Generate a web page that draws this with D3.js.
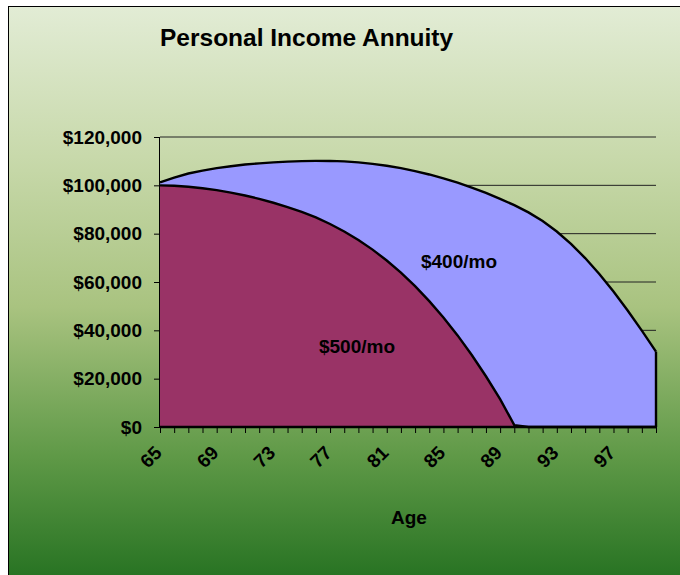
<!DOCTYPE html>
<html>
<head>
<meta charset="utf-8">
<script src="https://cdn.jsdelivr.net/npm/d3@7"></script>
<style>
  body { margin: 0; background: #fff; }
  svg text { font-family: "Liberation Sans", Arial, sans-serif; font-weight: bold; fill: #000; }
</style>
</head>
<body>
<svg id="chart"></svg>
<script>
// ages on the category axis
const ages = d3.range(65, 101);
const tickAges = [65, 69, 73, 77, 81, 85, 89, 93, 97];
const yTicks = [0, 20000, 40000, 60000, 80000, 100000, 120000];

// account balance, $500 a month
const pay500 = [100000, 99800, 99400, 98800, 98000, 97000, 95800, 94400, 92800, 91000,
  89000, 86700, 84000, 80900, 77400, 73400, 68900, 63900, 58300, 52100,
  45300, 37900, 29800, 21000, 11500, 800, 0, 0, 0, 0,
  0, 0, 0, 0, 0, 0];

// account balance, $400 a month
const pay400 = [101200, 103200, 104900, 106100, 107100, 107900, 108600, 109100, 109500, 109800,
  110000, 110100, 110100, 109900, 109500, 108900, 108100, 107100, 105900, 104500,
  102900, 101100, 99100, 96900, 94400, 91800, 88800, 85200, 80900, 75800,
  69900, 63300, 56100, 48200, 39900, 31200];

const W = 680, H = 575;
const margin = { top: 137, right: 24, bottom: 148, left: 160 };
const width = W - margin.left - margin.right;
const height = H - margin.top - margin.bottom;

const svg = d3.select('#chart').attr('width', W).attr('height', H);

// background
const grad = svg.append('defs').append('linearGradient')
  .attr('id', 'bg').attr('x1', 0).attr('y1', 0).attr('x2', 0).attr('y2', 1);
[[0, '#e2ecd5'], [0.25, '#c8d9ab'], [0.5, '#a9c380'], [0.75, '#5f9947'], [1, '#1a6a1a']]
  .forEach(([o, c]) => grad.append('stop').attr('offset', o).attr('stop-color', c));

svg.append('rect')
  .attr('x', 8.5).attr('y', 6.5).attr('width', 700).attr('height', 600)
  .attr('fill', 'url(#bg)').attr('stroke', '#000').attr('stroke-width', 1);

svg.append('text')
  .attr('x', 160).attr('y', 46)
  .style('font-size', '24.5px')
  .text('Personal Income Annuity');

const g = svg.append('g').attr('transform', `translate(${margin.left}, ${margin.top})`);

const x = d3.scalePoint().domain(ages).range([0, width]);
const y = d3.scaleLinear().domain([0, 120000]).range([height, 0]);

// gridlines
g.append('g')
  .selectAll('line')
  .data(yTicks.filter(d => d > 0))
  .enter().append('line')
  .attr('x1', 0).attr('x2', width)
  .attr('y1', d => y(d)).attr('y2', d => y(d))
  .attr('stroke', '#222').attr('stroke-width', 1);

const area = (vals) => d3.area()
  .x((d, i) => x(ages[i]))
  .y0(height)
  .y1(d => y(d))(vals);

const line = (vals) => d3.line()
  .x((d, i) => x(ages[i]))
  .y(d => y(d))(vals);

// $400/mo behind
g.append('path').attr('d', area(pay400)).attr('fill', '#9999ff');
g.append('path').attr('d', line(pay400)).attr('fill', 'none').attr('stroke', '#000').attr('stroke-width', 2.4);
g.append('line')
  .attr('x1', x(100)).attr('x2', x(100))
  .attr('y1', height).attr('y2', y(pay400[pay400.length - 1]))
  .attr('stroke', '#000').attr('stroke-width', 2.4);

// $500/mo in front
g.append('path').attr('d', area(pay500)).attr('fill', '#993366');
g.append('path').attr('d', line(pay500)).attr('fill', 'none').attr('stroke', '#000').attr('stroke-width', 2.4);

// axes
const yAxis = g.append('g')
  .call(d3.axisLeft(y).tickValues(yTicks).tickSize(6).tickPadding(12)
    .tickFormat(d => '$' + d3.format(',')(d)));
yAxis.select('.domain').attr('stroke', '#000').attr('d', `M-0.5,${height}V0`);
yAxis.selectAll('text').style('font-size', '19px');

const xAxis = g.append('g')
  .attr('transform', `translate(0, ${height})`)
  .call(d3.axisBottom(x).tickSize(6).tickFormat(''));
xAxis.select('.domain').remove();
g.append('line')
  .attr('x1', 0).attr('x2', width).attr('y1', height).attr('y2', height)
  .attr('stroke', '#000').attr('stroke-width', 2.5);

g.append('g')
  .selectAll('text')
  .data(tickAges)
  .enter().append('text')
  .attr('transform', d => `translate(${x(d) + 3}, ${height + 27}) rotate(-45)`)
  .attr('text-anchor', 'end')
  .style('font-size', '19px')
  .text(d => d);

svg.append('text')
  .attr('x', 409).attr('y', 524)
  .attr('text-anchor', 'middle')
  .style('font-size', '19px')
  .text('Age');

svg.append('text').attr('x', 459).attr('y', 268).attr('text-anchor', 'middle')
  .style('font-size', '19px').text('$400/mo');
svg.append('text').attr('x', 357).attr('y', 353).attr('text-anchor', 'middle')
  .style('font-size', '19px').text('$500/mo');
</script>
</body>
</html>
